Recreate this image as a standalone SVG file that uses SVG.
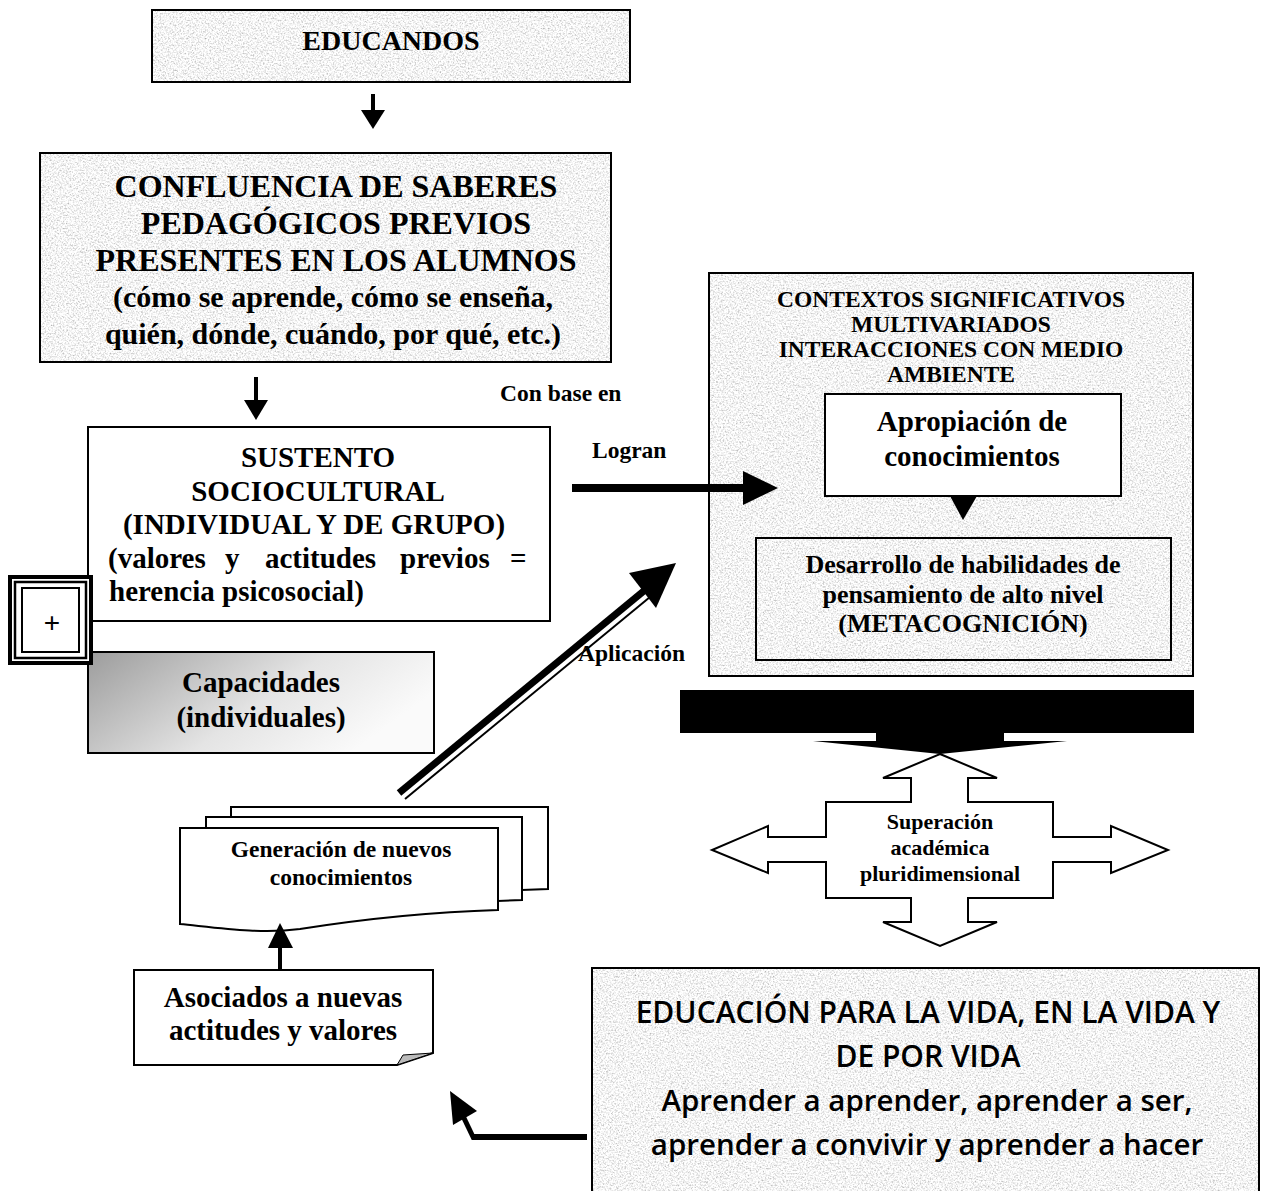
<svg xmlns="http://www.w3.org/2000/svg" width="1261" height="1191" viewBox="0 0 1261 1191">
<style>
.b{font-family:"Liberation Serif","Times New Roman",serif;font-weight:bold;fill:#000}
.c{text-anchor:middle}
.s{font-family:"Open Sans","Lato",sans-serif;font-weight:600;fill:#000;text-anchor:middle}
.box{fill:none;stroke:#000;stroke-width:2}
.wbox{fill:#fff;stroke:#000;stroke-width:2}
.tex{fill:#ddd;filter:url(#stone)}
</style>
<defs>
<filter id="stone" x="0" y="0" width="1" height="1">
<feTurbulence type="fractalNoise" baseFrequency="0.6" numOctaves="4" seed="7" result="t"/>
<feColorMatrix in="t" type="matrix" values="1.1 0 0 0 0.36  1.1 0 0 0 0.36  1.1 0 0 0 0.36  0 0 0 0 1" result="g"/>
<feComposite in="g" in2="SourceAlpha" operator="in"/>
</filter>
<linearGradient id="gr" x1="0" y1="0" x2="1" y2="0.4">
<stop offset="0" stop-color="#9c9c9c"/>
<stop offset="0.6" stop-color="#e4e4e4"/>
<stop offset="1" stop-color="#fafafa"/>
</linearGradient>
</defs>
<rect width="1261" height="1191" fill="#fff"/>

<g id="educandos">
<rect class="tex" x="152" y="10" width="478" height="72"/>
<rect class="box" x="152" y="10" width="478" height="72"/>
<text class="b c" x="391" y="50" font-size="28">EDUCANDOS</text>
</g>

<g id="confluencia">
<rect class="tex" x="40" y="153" width="571" height="209"/>
<rect class="box" x="40" y="153" width="571" height="209"/>
<text class="b c" font-size="32" x="336" y="197">CONFLUENCIA DE SABERES</text>
<text class="b c" font-size="32" x="336" y="234">PEDAGÓGICOS PREVIOS</text>
<text class="b c" font-size="32" x="336" y="271">PRESENTES EN LOS ALUMNOS</text>
<text class="b c" font-size="30" x="333" y="307">(cómo se aprende, cómo se enseña,</text>
<text class="b c" font-size="30" x="333" y="344">quién, dónde, cuándo, por qué, etc.)</text>
</g>

<g id="sustento">
<rect class="wbox" x="88" y="427" width="462" height="194"/>
<text class="b c" font-size="29" x="318" y="467">SUSTENTO</text>
<text class="b c" font-size="29" x="318" y="501">SOCIOCULTURAL</text>
<text class="b c" font-size="29" x="314" y="534">(INDIVIDUAL Y DE GRUPO)</text>
<text class="b" font-size="29" y="568"><tspan x="108">(valores</tspan><tspan x="225">y</tspan><tspan x="265">actitudes</tspan><tspan x="400">previos</tspan><tspan x="510">=</tspan></text>
<text class="b" font-size="29" x="109" y="601">herencia psicosocial)</text>
</g>

<g id="capacidades">
<rect x="88" y="652" width="346" height="101" fill="url(#gr)" stroke="#000" stroke-width="2"/>
<text class="b c" font-size="29" x="261" y="692">Capacidades</text>
<text class="b c" font-size="29" x="261" y="727">(individuales)</text>
</g>

<g id="plus">
<rect x="10" y="577" width="81" height="86" fill="#fff" stroke="#000" stroke-width="4"/>
<rect x="15" y="582" width="71" height="76" fill="none" stroke="#000" stroke-width="2.5"/>
<rect x="22" y="588" width="57" height="64" fill="#fff" stroke="#000" stroke-width="2"/>
<text x="52" y="632" font-family="Liberation Sans, Arial, sans-serif" font-size="28" text-anchor="middle">+</text>
</g>

<g id="contextos">
<rect class="tex" x="709" y="273" width="484" height="403"/>
<rect class="box" x="709" y="273" width="484" height="403"/>
<text class="b c" font-size="23.5" x="951" y="307">CONTEXTOS SIGNIFICATIVOS</text>
<text class="b c" font-size="23.5" x="951" y="332">MULTIVARIADOS</text>
<text class="b c" font-size="23.5" x="951" y="357">INTERACCIONES CON MEDIO</text>
<text class="b c" font-size="23.5" x="951" y="382">AMBIENTE</text>
</g>

<g id="apropiacion">
<rect class="wbox" x="825" y="394" width="296" height="102"/>
<text class="b c" font-size="29" x="972" y="431">Apropiación de</text>
<text class="b c" font-size="29" x="972" y="466">conocimientos</text>
</g>

<g id="desarrollo">
<rect class="box" x="756" y="538" width="415" height="122"/>
<text class="b c" font-size="26" x="963" y="573">Desarrollo de habilidades de</text>
<text class="b c" font-size="26" x="963" y="603">pensamiento de alto nivel</text>
<text class="b c" font-size="26" x="963" y="632">(METACOGNICIÓN)</text>
</g>

<g id="barra">
<rect x="680" y="690" width="514" height="43" fill="#000"/>
<polygon points="876,732 1004,732 1004,741 1067,741 940,754 813,741 876,741" fill="#000"/>
</g>

<g id="superacion">
<polygon points="940,754 997,778 968,778 968,802 1053,802 1053,837 1111,837 1111,826 1168,850 1111,873 1111,862 1053,862 1053,898 968,898 968,922 997,922 940,946 883,922 911,922 911,898 826,898 826,862 768,862 768,873 712,850 768,826 768,837 826,837 826,802 911,802 911,778 883,778" fill="#fff" stroke="#000" stroke-width="2"/>
<text class="b c" font-size="22" x="940" y="829">Superación</text>
<text class="b c" font-size="22" x="940" y="855">académica</text>
<text class="b c" font-size="22" x="940" y="881">pluridimensional</text>
</g>

<g id="generacion">
<polygon points="231,807 548,807 548,889 522,890 522,817 231,817" fill="#fff" stroke="#000" stroke-width="2"/>
<polygon points="206,817 522,817 522,900 498,901 498,828 206,828" fill="#fff" stroke="#000" stroke-width="2"/>
<path d="M180,828 H498 V910 C430,912 370,918 300,929 C260,934 220,928 180,924 Z" fill="#fff" stroke="#000" stroke-width="2"/>
<text class="b c" font-size="23.5" x="341" y="857">Generación de nuevos</text>
<text class="b c" font-size="23.5" x="341" y="885">conocimientos</text>
</g>

<g id="asociados">
<path d="M134,970 H433 V1053 L397,1065 H134 Z" fill="#fff" stroke="#000" stroke-width="2"/>
<path d="M397,1065 L403,1055 L433,1053 Z" fill="#bbb" stroke="#000" stroke-width="1"/>
<text class="b c" font-size="29" x="283" y="1007">Asociados a nuevas</text>
<text class="b c" font-size="29" x="283" y="1040">actitudes y valores</text>
</g>

<g id="educacion">
<rect class="tex" x="592" y="968" width="667" height="230"/>
<rect class="box" x="592" y="968" width="667" height="230"/>
<text class="s" font-size="30" x="928" y="1023">EDUCACIÓN PARA LA VIDA, EN LA VIDA Y</text>
<text class="s" font-size="30" x="928" y="1067">DE POR VIDA</text>
<text class="s" font-size="29.5" x="927" y="1111">Aprender a aprender, aprender a ser,</text>
<text class="s" font-size="29.5" x="927" y="1155">aprender a convivir y aprender a hacer</text>
</g>

<g id="labels">
<text class="b" font-size="23.5" x="500" y="401">Con base en</text>
<text class="b" font-size="23.5" x="592" y="458">Logran</text>
<text class="b" font-size="23.5" x="578" y="661">Aplicación</text>
</g>

<g id="connectors">
<line x1="373" y1="94" x2="373" y2="112" stroke="#000" stroke-width="4"/>
<polygon points="361,110 385,110 373,129" fill="#000"/>
<line x1="256" y1="377" x2="256" y2="402" stroke="#000" stroke-width="4"/>
<polygon points="244,400 268,400 256,420" fill="#000"/>
<line x1="572" y1="488" x2="745" y2="488" stroke="#000" stroke-width="8"/>
<polygon points="743,471 778,488 743,505" fill="#000"/>
<polygon points="950,496 977,496 963,520" fill="#000"/>
<line x1="399" y1="793" x2="645" y2="590" stroke="#000" stroke-width="7"/>
<line x1="405" y1="799" x2="650" y2="597" stroke="#000" stroke-width="2"/>
<polygon points="676,563 656,608 629,573" fill="#000"/>
<line x1="280" y1="970" x2="280" y2="946" stroke="#000" stroke-width="4"/>
<polygon points="268,948 293,948 280,923" fill="#000"/>
<line x1="587" y1="1137" x2="472" y2="1137" stroke="#000" stroke-width="6"/>
<line x1="474" y1="1139" x2="463" y2="1116" stroke="#000" stroke-width="5"/>
<polygon points="450,1091 477,1111 453,1125" fill="#000"/>
</g>
</svg>
